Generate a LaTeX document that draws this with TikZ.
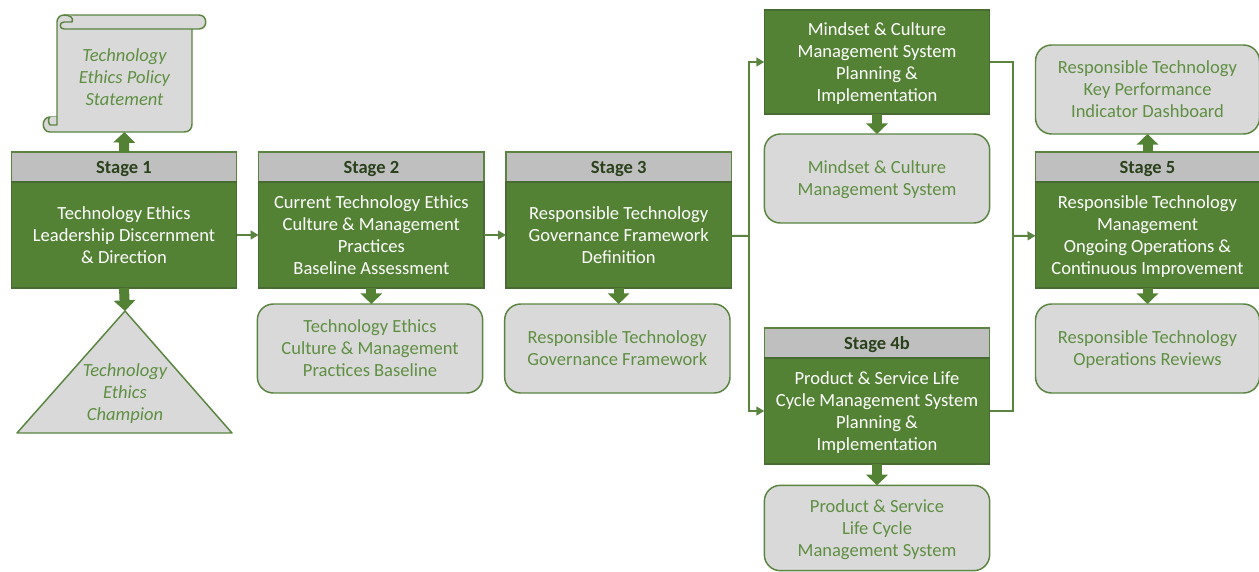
\documentclass[tikz,border=0pt]{standalone}
\usepackage{fontspec}
\setmainfont{Carlito}
\usepackage{tikz}
\usetikzlibrary{arrows.meta, positioning}
\usepackage{xcolor}
\definecolor{stagegreen}{HTML}{548235}
\definecolor{edgegreen}{HTML}{5A8440}
\definecolor{textgreen}{HTML}{5F8F42}
\definecolor{headgrey}{HTML}{BFBFBF}
\definecolor{boxgrey}{HTML}{D9D9D9}
\tikzstyle{stagehead} = [
    rectangle,
    draw=edgegreen,
    fill=headgrey,
    line width=1pt,
    outer sep=0pt,
    minimum width=169pt,
    minimum height=22.5pt,
    text depth=0pt,
    text=black!50!stagegreen,
    font=\fontsize{13.9}{16.5}\selectfont\bfseries
]
\tikzstyle{stagebody} = [
    rectangle,
    draw=edgegreen!80!black,
    fill=stagegreen,
    line width=1pt,
    outer sep=0pt,
    minimum width=169pt,
    minimum height=79.5pt,
    text depth=0pt,
    text=white,
    align=center,
    font=\fontsize{13.9}{16.5}\selectfont
]
\tikzstyle{resultbox} = [
    rectangle,
    rounded corners=12pt,
    draw=edgegreen,
    fill=boxgrey,
    line width=1.1pt,
    outer sep=0pt,
    minimum width=169pt,
    minimum height=66.75pt,
    text depth=0pt,
    text=textgreen,
    align=center,
    font=\fontsize{13.9}{16.5}\selectfont
]
\tikzstyle{notetext} = [
    text=textgreen,
    align=center,
    outer sep=0pt,
    font=\fontsize{13.9}{16.5}\selectfont\itshape
]
\tikzstyle{noteshape} = [
    draw=edgegreen,
    fill=boxgrey,
    line width=1.1pt,
    line join=round
]
\tikzstyle{flowline} = [
    draw=edgegreen,
    line width=1.5pt,
    -{Triangle[length=6pt,width=6.5pt]}
]
\tikzstyle{flowplain} = [
    draw=edgegreen,
    line width=1.5pt
]
\tikzstyle{blockarrow} = [
    draw=stagegreen,
    line width=7.5pt,
    -{Triangle[length=8pt,width=16pt]}
]

\begin{document}
\begin{tikzpicture}[x=0.75pt, y=-0.75pt]
    \useasboundingbox (0,0) rectangle (1259,571);

    % scroll and triangle
    \draw[noteshape] (64,15) -- (199,15) .. controls (208,15) and (208,29) .. (199,29) -- (192,29)
        -- (192,124) .. controls (192,129) and (189,132) .. (184,132) -- (50,132)
        .. controls (41,132) and (41,117) .. (50,117) -- (57,117) -- (57,22)
        .. controls (57,18) and (60,15) .. (64,15) -- cycle;
    \draw[noteshape] (192,29) -- (64,29) .. controls (59,29) and (59,22) .. (64,22) -- (72,22)
        .. controls (74,18) and (70,15) .. (64,15);
    \draw[noteshape] (57,117) -- (57,125) -- (50,125) .. controls (48,122) and (48,118) .. (50,117);
    \draw[noteshape] (125,311) -- (232,433) -- (17,433) -- cycle;

    \node[stagehead] (stageOneHead) at (124,167) {Stage 1};
    \node[stagebody, below=0pt of stageOneHead] (stageOneBody) {Technology Ethics\\Leadership Discernment\\\& Direction};
    \node[stagehead, right=16.5pt of stageOneHead] (stageTwoHead) {Stage 2};
    \node[stagebody, below=0pt of stageTwoHead] (stageTwoBody) {Current Technology Ethics\\Culture \& Management\\Practices\\Baseline Assessment};
    \node[stagehead, right=16.5pt of stageTwoHead] (stageThreeHead) {Stage 3};
    \node[stagebody, below=0pt of stageThreeHead] (stageThreeBody) {Responsible Technology\\Governance Framework\\Definition};

    \node[stagebody, minimum height=78pt] (mindsetBody) at (877,62) {Mindset \& Culture\\Management System\\Planning \&\\Implementation};
    \node[stagehead] (stageFourHead) at (877,343) {Stage 4b};
    \node[stagebody, below=0pt of stageFourHead] (stageFourBody) {Product \& Service Life\\Cycle Management System\\Planning \&\\Implementation};
    \node[stagehead, minimum width=168pt] (stageFiveHead) at (1147.5,167) {Stage 5};
    \node[stagebody, minimum width=168pt, below=0pt of stageFiveHead] (stageFiveBody) {Responsible Technology\\Management\\Ongoing Operations \&\\Continuous Improvement};

    \node[resultbox, below=12pt of stageTwoBody, xshift=-1pt] (baselineBox) {Technology Ethics\\Culture \& Management\\Practices Baseline};
    \node[resultbox, below=12pt of stageThreeBody, xshift=-1pt] (frameworkBox) {Responsible Technology\\Governance Framework};
    \node[resultbox, below=15pt of mindsetBody] (mindsetBox) {Mindset \& Culture\\Management System};
    \node[resultbox, below=16pt of stageFourBody, minimum height=64pt] (lifecycleBox) {Product \& Service\\Life Cycle\\Management System};
    \node[resultbox, minimum width=168pt, above=13.5pt of stageFiveHead] (dashboardBox) {Responsible Technology\\Key Performance\\Indicator Dashboard};
    \node[resultbox, minimum width=168pt, below=12pt of stageFiveBody] (reviewsBox) {Responsible Technology\\Operations Reviews};

    \node[notetext, minimum height=82.5pt] (policyNote) at (124.5,77) {Technology\\Ethics Policy\\Statement};
    \node[notetext] (championNote) at (125,394) {Technology\\Ethics\\Champion};
    \coordinate (championTop) at (125,311);

    \coordinate (busLeft) at (749,236);
    \coordinate (busRight) at (1013,236);

    \draw[blockarrow] (stageOneHead.north) -- (policyNote.south);
    \draw[blockarrow] (stageOneBody.south) -- (championTop);
    \draw[blockarrow] (stageTwoBody.south) -- (stageTwoBody.south |- baselineBox.north);
    \draw[blockarrow] (stageThreeBody.south) -- (stageThreeBody.south |- frameworkBox.north);
    \draw[blockarrow] (mindsetBody.south) -- (mindsetBox.north);
    \draw[blockarrow] (stageFourBody.south) -- (lifecycleBox.north);
    \draw[blockarrow] (stageFiveHead.north) -- (dashboardBox.south);
    \draw[blockarrow] (stageFiveBody.south) -- (reviewsBox.north);

    \draw[flowline] (stageOneBody) -- (stageTwoBody);
    \draw[flowline] (stageTwoBody) -- (stageThreeBody);
    \draw[flowplain] (stageThreeBody) -- (busLeft);
    \draw[flowline] (busLeft) |- (mindsetBody);
    \draw[flowline] (busLeft) |- (stageFourBody);
    \draw[flowplain] (mindsetBody) -| (busRight);
    \draw[flowplain] (stageFourBody) -| (busRight);
    \draw[flowline] (busRight) -- (stageFiveBody);
\end{tikzpicture}
\end{document}
